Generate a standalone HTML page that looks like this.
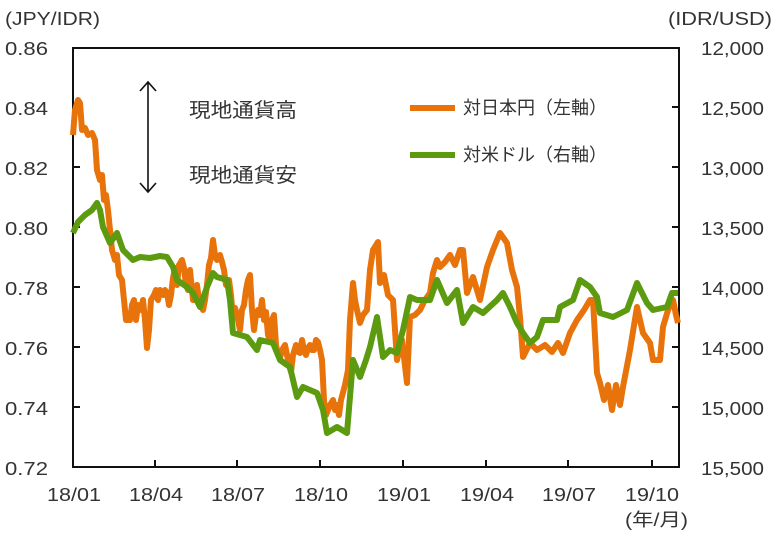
<!DOCTYPE html>
<html><head><meta charset="utf-8"><style>
body{margin:0;background:#fff}
svg text{font-family:"Liberation Sans","Noto Sans CJK JP",sans-serif;fill:#333}
</style></head><body>
<svg width="776" height="535" viewBox="0 0 776 535" xmlns="http://www.w3.org/2000/svg">
<g font-size="18" lengthAdjust="spacingAndGlyphs">
<text x="5" y="25" textLength="95" lengthAdjust="spacingAndGlyphs">(JPY/IDR)</text>
<text x="668" y="25" textLength="104" lengthAdjust="spacingAndGlyphs">(IDR/USD)</text>
<g>
<text x="5" y="55" textLength="43" lengthAdjust="spacingAndGlyphs">0.86</text><text x="5" y="115" textLength="43" lengthAdjust="spacingAndGlyphs">0.84</text><text x="5" y="175" textLength="43" lengthAdjust="spacingAndGlyphs">0.82</text><text x="5" y="235" textLength="43" lengthAdjust="spacingAndGlyphs">0.80</text><text x="5" y="295" textLength="43" lengthAdjust="spacingAndGlyphs">0.78</text><text x="5" y="355" textLength="43" lengthAdjust="spacingAndGlyphs">0.76</text><text x="5" y="415" textLength="43" lengthAdjust="spacingAndGlyphs">0.74</text><text x="5" y="475" textLength="43" lengthAdjust="spacingAndGlyphs">0.72</text>
</g>
<g>
<text x="701" y="55" textLength="63" lengthAdjust="spacingAndGlyphs">12,000</text><text x="701" y="115" textLength="63" lengthAdjust="spacingAndGlyphs">12,500</text><text x="701" y="175" textLength="63" lengthAdjust="spacingAndGlyphs">13,000</text><text x="701" y="235" textLength="63" lengthAdjust="spacingAndGlyphs">13,500</text><text x="701" y="295" textLength="63" lengthAdjust="spacingAndGlyphs">14,000</text><text x="701" y="355" textLength="63" lengthAdjust="spacingAndGlyphs">14,500</text><text x="701" y="415" textLength="63" lengthAdjust="spacingAndGlyphs">15,000</text><text x="701" y="475" textLength="63" lengthAdjust="spacingAndGlyphs">15,500</text>
</g>
<g>
<text x="47" y="501" textLength="54" lengthAdjust="spacingAndGlyphs">18/01</text><text x="129" y="501" textLength="54" lengthAdjust="spacingAndGlyphs">18/04</text><text x="211" y="501" textLength="54" lengthAdjust="spacingAndGlyphs">18/07</text><text x="294" y="501" textLength="54" lengthAdjust="spacingAndGlyphs">18/10</text><text x="377" y="501" textLength="54" lengthAdjust="spacingAndGlyphs">19/01</text><text x="460" y="501" textLength="54" lengthAdjust="spacingAndGlyphs">19/04</text><text x="542" y="501" textLength="54" lengthAdjust="spacingAndGlyphs">19/07</text><text x="625" y="501" textLength="54" lengthAdjust="spacingAndGlyphs">19/10</text>
<text x="625" y="526" textLength="63" lengthAdjust="spacingAndGlyphs">(年/月)</text>
</g>
</g>
<g stroke="#111" stroke-width="2" fill="none">
<path d="M73,48V467H679V48Z"/>
<path d="M73,107h7M73,167h7M73,227h7M73,287h7M73,347h7M73,407h7"/>
<path d="M679,107h-7M679,167h-7M679,227h-7M679,287h-7M679,347h-7M679,407h-7"/>
<path d="M155,467v-7M237,467v-7M320,467v-7M403,467v-7M486,467v-7M568,467v-7M652,467v-7"/>
<path d="M148,82V192M140,91L148,82L156,91M140,183L148,192L156,183" stroke-width="1.6"/>
</g>
<g font-size="20"><text x="189" y="117" textLength="108" lengthAdjust="spacingAndGlyphs">現地通貨高</text><text x="189" y="182" textLength="108" lengthAdjust="spacingAndGlyphs">現地通貨安</text></g>
<g font-size="18"><text x="463" y="114" textLength="144" lengthAdjust="spacingAndGlyphs">対日本円（左軸）</text><text x="463" y="161" textLength="144" lengthAdjust="spacingAndGlyphs">対米ドル（右軸）</text></g>
<path d="M410,108h45" stroke="#E8730A" stroke-width="6"/>
<path d="M410,155h45" stroke="#5C9A10" stroke-width="6"/>
<g fill="none" stroke-width="6" stroke-linejoin="round">
<polyline stroke="#E8730A" points="73,135 75,110 78,100 80,103 82,130 85,128 88,135 92,133 95,140 97,170 100,180 102,175 104,200 106,195 108,210 110,230 112,250 115,260 117,255 119,275 122,280 124,300 126,320 130,320 132,305 134,300 136,320 138,305 141,310 143,300 145,320 147,348 149,330 151,300 154,295 156,290 158,300 160,290 163,295 165,290 167,293 169,305 171,295 173,278 175,268 177,285 179,265 182,260 184,268 186,285 188,290 190,270 193,300 195,300 197,285 199,300 201,305 203,310 205,300 207,285 209,265 211,258 213,240 215,255 217,260 220,255 222,262 224,270 226,285 229,280 231,295 233,318 235,308 237,315 240,330 242,310 244,305 246,290 248,280 250,275 252,310 254,330 256,315 258,310 260,315 262,300 264,320 266,312 268,335 270,340 272,320 274,315 276,345 278,355 280,358 282,350 285,345 287,355 289,365 291,372 293,355 296,345 298,352 300,353 302,340 304,350 306,355 308,348 310,345 312,350 314,350 316,340 318,342 320,350 322,360 324,400 326,415 328,410 330,405 333,400 335,410 337,405 339,415 341,400 345,385 348,370 350,320 353,283 355,300 357,310 360,323 363,315 367,310 370,270 373,250 378,242 380,283 384,275 388,295 393,300 397,360 402,340 407,383 410,317 415,315 420,310 425,300 430,293 433,273 437,260 440,267 445,262 450,255 455,265 460,250 463,250 467,293 473,277 480,300 487,267 493,250 500,233 507,243 512,270 517,287 520,317 523,357 530,343 537,350 545,345 552,352 558,343 563,353 570,333 577,320 584,310 590,300 593,300 597,373 600,383 604,400 608,385 612,410 616,385 620,405 623,387 630,350 637,307 643,333 650,343 653,360 660,360 663,327 668,310 673,300 676,315 678,323"/>
<polyline stroke="#5C9A10" points="73,233 78,222 85,215 92,210 97,203 100,210 103,227 110,243 117,233 123,250 133,260 140,257 150,258 160,256 167,257 173,267 177,280 187,287 193,293 200,307 207,287 213,273 217,277 227,280 230,300 233,333 247,337 257,350 260,340 273,343 280,360 290,367 297,397 303,387 317,393 323,410 327,433 337,427 347,433 353,360 360,377 366,360 370,347 377,317 383,357 390,350 397,353 403,330 410,297 417,300 430,300 437,280 447,303 457,290 463,323 473,307 483,313 497,300 503,293 510,307 517,323 523,333 530,343 537,337 543,320 557,320 560,307 573,300 580,280 590,287 597,297 600,313 613,317 627,310 637,283 647,303 653,310 667,307 672,293 678,293"/>
</g>
</svg>
</body></html>
